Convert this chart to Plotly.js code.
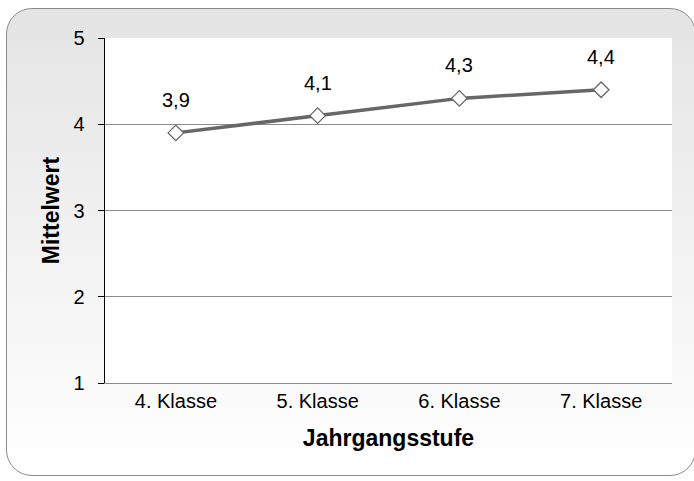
<!DOCTYPE html>
<html><head><meta charset="utf-8">
<script src="https://cdn.plot.ly/plotly-3.0.1.min.js"></script>
<style>
html,body{margin:0;padding:0;background:#fff;}
#wrap{position:relative;width:694px;height:481px;overflow:hidden;}
#bg{position:absolute;left:6px;top:8px;width:690px;height:468px;border:1.5px solid #8c8c8c;border-radius:26px;background:linear-gradient(#e4e4e4,#ffffff);box-sizing:border-box;}
#chart{position:absolute;left:0;top:0;width:694px;height:481px;}
</style></head>
<body><div id="wrap"><div id="bg"></div><div id="chart"></div></div>
<script>
const categories = ["4. Klasse","5. Klasse","6. Klasse","7. Klasse"];
const values = [3.9, 4.1, 4.3, 4.4];
const valueLabels = ["3,9","4,1","4,3","4,4"];
const yTicks = [1,2,3,4,5];

const font = "Liberation Sans, Arial, sans-serif";
const trace = {
  x: categories, y: values, type: "scatter", mode: "lines+markers",
  line: {color: "#676767", width: 3.5},
  marker: {symbol: "diamond", size: 12, color: "#ffffff", line: {color: "#676767", width: 1.3}},
  hoverinfo: "skip"
};
const annotations = categories.map((c,i)=>({
  x: c, y: values[i], text: valueLabels[i], showarrow: false, yshift: 33,
  font: {family: font, size: 20, color: "#000"}
}));
const layout = {
  width: 694, height: 481,
  margin: {l:105, r:22, t:38, b:98},
  paper_bgcolor: "rgba(0,0,0,0)", plot_bgcolor: "#ffffff",
  showlegend: false,
  font: {family: font, size: 20, color: "#000"},
  xaxis: {type: "category", range: [-0.5, 3.5], showgrid: false, zeroline: false,
    showline: true, linecolor: "#8c8c8c", linewidth: 1.3, ticks: "",
    tickfont: {family: font, size: 20}, fixedrange: true,
    title: {text: "Jahrgangsstufe", font: {family: font, size: 23, weight: "bold"}, standoff: 18}},
  yaxis: {range: [1, 5], tickvals: yTicks, showgrid: true, gridcolor: "#8c8c8c", gridwidth: 1,
    zeroline: false, showline: true, linecolor: "#000", linewidth: 1.5,
    ticks: "outside", ticklen: 6, tickcolor: "#000", tickwidth: 1, ticklabelstandoff: 9,
    tickfont: {family: font, size: 20}, fixedrange: true,
    title: {text: "Mittelwert", font: {family: font, size: 23, weight: "bold"}, standoff: 7}},
  annotations: annotations
};
Plotly.newPlot("chart", [trace], layout, {displayModeBar: false, staticPlot: true});
</script></body></html>
